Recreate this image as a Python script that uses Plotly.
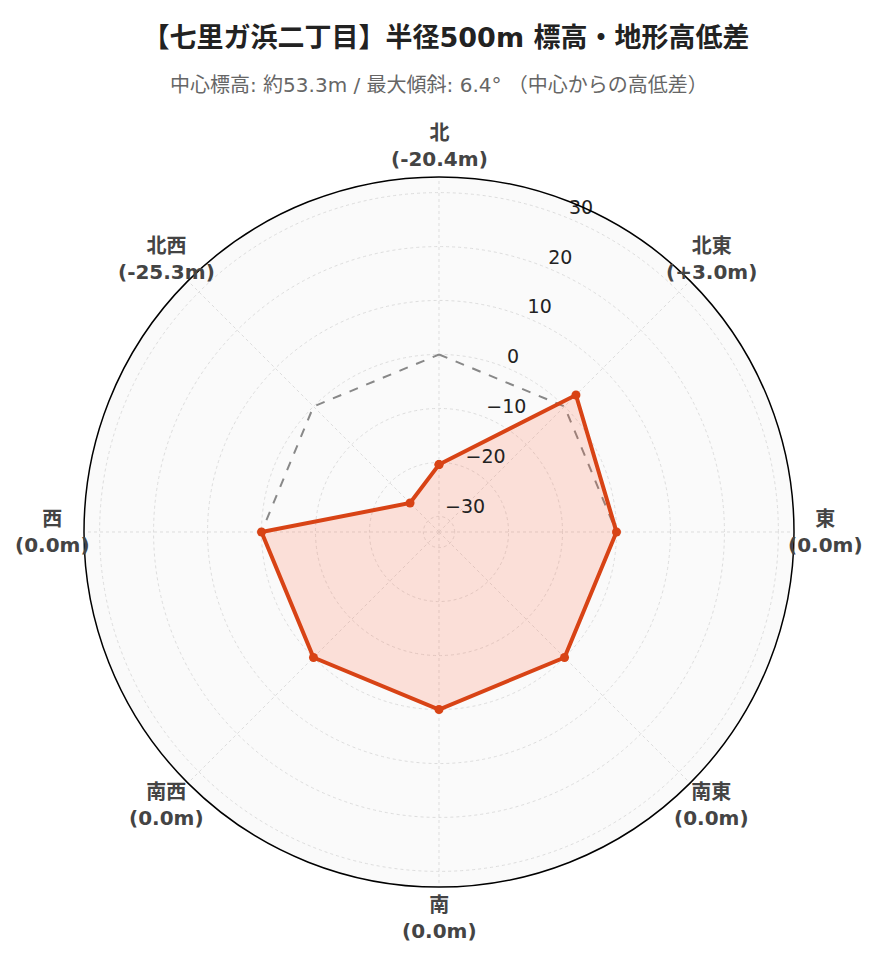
import math
import plotly.graph_objects as go

directions = ["北", "北東", "東", "南東", "南", "南西", "西", "北西"]
angles = [0, 45, 90, 135, 180, 225, 270, 315]
diffs = [-20.4, 3.0, 0.0, 0.0, 0.0, 0.0, 0.0, -25.3]
reference = [0, 0, 0, 0, 0, 0, 0, 0]
radial_ticks = [-30, -20, -10, 0, 10, 20, 30]
radial_tick_angle = 22.5

title = "【七里ガ浜二丁目】半径500m 標高・地形高低差"
subtitle = "中心標高: 約53.3m / 最大傾斜: 6.4° （中心からの高低差）"

labels = [f"{d}<br>({v:+.1f}m)" if v > 0 else f"{d}<br>({v:.1f}m)" for d, v in zip(directions, diffs)]
tick_text = [f"{t}".replace("-", "\u2212") for t in radial_ticks]

max_abs = max(abs(v) for v in diffs)
rng = max_abs * 1.3

FONT = "DejaVu Sans, Noto Sans CJK JP, sans-serif"
W, H = 876, 962
MT, MB, ML, MR = 169, 83, 76, 90
plot_w = W - ML - MR
plot_h = H - MT - MB
sub_y = ((H - 77) - MB) / plot_h
label_frac = 386 / 710  # label radius relative to polar diameter

fig = go.Figure()
fig.add_trace(go.Scatterpolar(
    r=reference + [reference[0]], theta=angles + [angles[0]],
    mode="lines", line=dict(color="#888888", width=2, dash="dash"),
    hoverinfo="skip", showlegend=False,
))
fig.add_trace(go.Scatterpolar(
    r=diffs + [diffs[0]], theta=angles + [angles[0]],
    mode="lines+markers", fill="toself",
    fillcolor="rgba(255,100,60,0.18)",
    line=dict(color="#d84315", width=4),
    marker=dict(color="#d84315", size=9),
    text=directions + [directions[0]],
    showlegend=False,
))
fig.add_trace(go.Scatterpolar(
    r=radial_ticks, theta=[radial_tick_angle] * len(radial_ticks),
    mode="text", text=tick_text, textposition="top right",
    textfont=dict(family=FONT, size=19, color="#222222"),
    hoverinfo="skip", showlegend=False, cliponaxis=False,
))

annotations = [dict(
    text=subtitle, xref="paper", yref="paper", x=0.5, y=sub_y,
    xanchor="center", yanchor="middle", showarrow=False,
    font=dict(family=FONT, size=20, color="#666666"),
)]
for a_deg, lab in zip(angles, labels):
    a = math.radians(a_deg)
    annotations.append(dict(
        text=f"<b>{lab}</b>", xref="paper", yref="paper",
        x=0.5 + label_frac * math.sin(a) * plot_h / plot_w,
        y=0.5 + label_frac * math.cos(a),
        xanchor="center", yanchor="middle", showarrow=False, align="center",
        font=dict(family=FONT, size=20, color="#444444"),
    ))

fig.update_layout(
    width=W, height=H,
    paper_bgcolor="white",
    margin=dict(l=ML, r=MR, t=MT, b=MB),
    title=dict(
        text=f"<b>{title}</b>",
        x=0.5, xanchor="center", y=0.969, yanchor="middle",
        font=dict(family=FONT, size=27, color="#222222"),
    ),
    annotations=annotations,
    polar=dict(
        bgcolor="#fafafa",
        angularaxis=dict(
            direction="clockwise", rotation=90,
            tickmode="array", tickvals=angles,
            showticklabels=False,
            showline=True, linecolor="black", linewidth=1.5,
            gridcolor="#dddddd", griddash="dot", gridwidth=1,
            ticks="",
        ),
        radialaxis=dict(
            range=[-rng, rng], angle=67.5,
            tickvals=radial_ticks, showticklabels=False,
            showline=False, ticks="",
            gridcolor="#dddddd", griddash="dot", gridwidth=1,
        ),
    ),
)

fig.write_html("out.html")
